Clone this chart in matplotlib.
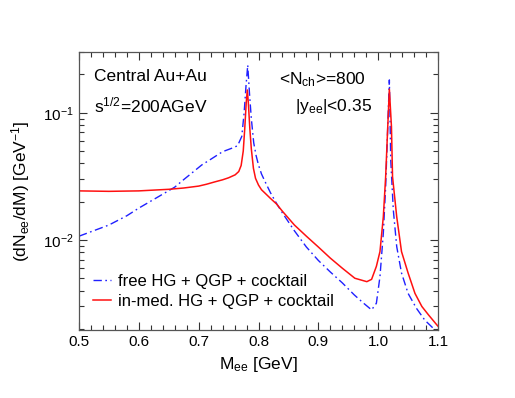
import matplotlib
matplotlib.use("Agg")
import matplotlib.pyplot as plt
from matplotlib.ticker import MultipleLocator, LogLocator, NullFormatter

plt.rcParams["font.family"] = ["Liberation Sans", "DejaVu Sans"]
plt.rcParams["mathtext.fontset"] = "custom"
plt.rcParams["mathtext.rm"] = "Liberation Sans"
plt.rcParams["mathtext.it"] = "Liberation Sans:italic"
plt.rcParams["mathtext.default"] = "regular"

# free HG + QGP + cocktail (blue dash-dot)
m_free = [0.50, 0.55, 0.58, 0.60, 0.63, 0.66, 0.675, 0.69, 0.705, 0.72, 0.74,
          0.755, 0.765, 0.772, 0.776, 0.779, 0.782, 0.785, 0.788, 0.792, 0.796,
          0.800, 0.805, 0.811, 0.820, 0.830, 0.840, 0.860, 0.880, 0.900, 0.920,
          0.940, 0.960, 0.975, 0.989, 0.997, 1.003, 1.0086, 1.0125, 1.016,
          1.0187, 1.021, 1.0253, 1.031, 1.039, 1.050, 1.064, 1.078, 1.095, 1.100]
y_free = [0.0107, 0.0131, 0.0155, 0.0178, 0.0215, 0.0260, 0.0298, 0.0340, 0.0388,
          0.0430, 0.0494, 0.0525, 0.0550, 0.065, 0.100, 0.160, 0.237, 0.140,
          0.090, 0.058, 0.046, 0.0388, 0.0330, 0.0287, 0.0235, 0.0194, 0.0163,
          0.0118, 0.0088, 0.0069, 0.0056, 0.0046, 0.0037, 0.0032, 0.00282,
          0.00318, 0.00515, 0.0113, 0.0262, 0.0776, 0.181, 0.0425, 0.0172,
          0.00886, 0.0055, 0.0038, 0.0029, 0.00234, 0.00196, 0.00185]

# in-med. HG + QGP + cocktail (red solid)
m_med = [0.50, 0.55, 0.60, 0.65, 0.675, 0.70, 0.713, 0.727, 0.74, 0.75, 0.761,
         0.767, 0.771, 0.7745, 0.777, 0.7795, 0.7813, 0.783, 0.7855, 0.788,
         0.7915, 0.795, 0.800, 0.805, 0.811, 0.820, 0.830, 0.840, 0.860, 0.880,
         0.900, 0.920, 0.940, 0.961, 0.981, 0.989, 0.997, 1.003, 1.0086, 1.0125,
         1.016, 1.0187, 1.0222, 1.024, 1.031, 1.039, 1.050, 1.0615, 1.073, 1.084,
         1.098, 1.100]
y_med = [0.0243, 0.0241, 0.0243, 0.0250, 0.0256, 0.0265, 0.0274, 0.0286, 0.0297,
         0.0308, 0.0325, 0.0345, 0.0385, 0.050, 0.075, 0.120, 0.151, 0.120,
         0.075, 0.052, 0.0366, 0.0305, 0.0270, 0.0248, 0.0233, 0.0212, 0.0192,
         0.0168, 0.0131, 0.0107, 0.0088, 0.0072, 0.0060, 0.0050, 0.0047, 0.0049,
         0.0062, 0.0081, 0.0152, 0.0314, 0.0776, 0.153, 0.0776, 0.0314, 0.0152,
         0.0081, 0.0055, 0.0038, 0.0030, 0.00258, 0.00215, 0.0021]

fig = plt.figure(figsize=(5.15, 3.98), dpi=100)
ax = fig.add_axes([0.1534, 0.1709, 0.6971, 0.6984])

ax.plot(m_free, y_free, color="#2020ff", lw=1.0,
        ls=(0, (6, 2.5, 1.2, 2.5)), label="free HG + QGP + cocktail")
ax.plot(m_med, y_med, color="#ff1010", lw=1.1,
        label="in-med. HG + QGP + cocktail")

ax.set_yscale("log")
ax.set_xlim(0.5, 1.1)
ax.set_ylim(0.00196, 0.3)

ax.xaxis.set_major_locator(MultipleLocator(0.1))
ax.xaxis.set_minor_locator(MultipleLocator(0.02))
ax.xaxis.set_major_formatter(plt.FuncFormatter(lambda v, p: f"{v:.1f}"))
ax.yaxis.set_major_locator(LogLocator(base=10))
ax.yaxis.set_minor_locator(LogLocator(base=10, subs=range(2, 10)))
ax.yaxis.set_minor_formatter(NullFormatter())

ax.tick_params(which="both", direction="in", top=True, right=True,
               colors="#333333", labelcolor="black", labelsize=11)
ax.tick_params(which="major", length=6, width=0.8)
ax.tick_params(which="minor", length=3.5, width=0.8)
for s in ax.spines.values():
    s.set_color("#555555")
    s.set_linewidth(0.9)

ax.set_xlabel("M$_{ee}$ [GeV]", fontsize=12.5)
ax.xaxis.set_label_coords(0.50, -0.09)
ax.set_ylabel("(dN$_{ee}$/dM) [GeV$^{-1}$]", fontsize=12.5)
ax.yaxis.set_label_coords(-0.13, 0.5)

ax.text(0.042, 0.896, "Central Au+Au", transform=ax.transAxes,
        fontsize=12.5, va="baseline")
ax.text(0.042, 0.782, "s$^{1/2}$=200AGeV", transform=ax.transAxes,
        fontsize=12.5, va="baseline")
ax.text(0.557, 0.885, "<N$_{ch}$>=800", transform=ax.transAxes,
        fontsize=12.5, va="baseline")
ax.text(0.602, 0.788, "|y$_{ee}$|<0.35", transform=ax.transAxes,
        fontsize=12.5, va="baseline")

ax.legend(loc="upper left", bbox_to_anchor=(0.02, 0.225), frameon=False,
          fontsize=12, handlelength=1.1, handletextpad=0.4,
          labelspacing=0.3, borderaxespad=0)

fig.savefig("out.png", dpi=100)
